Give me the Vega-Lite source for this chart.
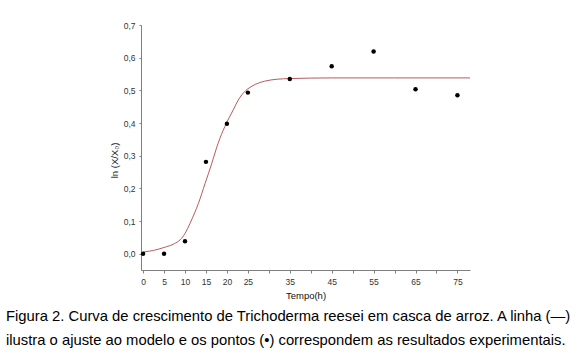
{
  "$schema": "https://vega.github.io/schema/vega-lite/v6.json",
  "width": 329,
  "height": 245,
  "autosize": {"type": "none"},
  "padding": {"left": 141, "top": 25, "right": 108, "bottom": 83},
  "background": "white",
  "config": {
    "view": {"stroke": null},
    "font": "Liberation Sans",
    "axis": {
      "grid": false,
      "domainColor": "#7f7f7f",
      "tickColor": "#7f7f7f",
      "labelColor": "#333333",
      "titleColor": "#111111",
      "labelFont": "Liberation Sans",
      "titleFont": "Liberation Sans",
      "labelFontSize": 8.5,
      "titleFontSize": 9.5,
      "titleFontWeight": "normal",
      "tickSize": 3
    }
  },
  "title": {
    "text": [
      "Figura 2. Curva de crescimento de Trichoderma reesei em casca de arroz. A linha (—)",
      "ilustra o ajuste ao modelo e os pontos (•) correspondem as resultados experimentais."
    ],
    "orient": "bottom",
    "anchor": "start",
    "frame": "group",
    "dx": -135,
    "offset": 9,
    "font": "Liberation Sans",
    "fontSize": 14.8,
    "fontWeight": "normal",
    "color": "#000000",
    "lineHeight": 24
  },
  "datasets": {
    "curve": [
      {"t": 0, "y": 0.005},
      {"t": 2.5, "y": 0.010},
      {"t": 5, "y": 0.019},
      {"t": 7.5, "y": 0.031},
      {"t": 8.8, "y": 0.042},
      {"t": 10, "y": 0.062},
      {"t": 11.2, "y": 0.093},
      {"t": 13.2, "y": 0.154},
      {"t": 14.8, "y": 0.215},
      {"t": 16.4, "y": 0.277},
      {"t": 17.9, "y": 0.338},
      {"t": 19.5, "y": 0.389},
      {"t": 21.5, "y": 0.440},
      {"t": 22.7, "y": 0.470},
      {"t": 24, "y": 0.493},
      {"t": 26, "y": 0.513},
      {"t": 29, "y": 0.528},
      {"t": 32, "y": 0.534},
      {"t": 35, "y": 0.536},
      {"t": 45, "y": 0.538},
      {"t": 60, "y": 0.538},
      {"t": 78, "y": 0.538}
    ],
    "points": [
      {"t": 0, "y": 0.0},
      {"t": 5, "y": 0.0},
      {"t": 10, "y": 0.038},
      {"t": 15, "y": 0.281},
      {"t": 20, "y": 0.398},
      {"t": 25, "y": 0.493},
      {"t": 35, "y": 0.535},
      {"t": 45, "y": 0.574},
      {"t": 55, "y": 0.619},
      {"t": 65, "y": 0.503},
      {"t": 75, "y": 0.485}
    ]
  },
  "layer": [
    {
      "data": {"name": "curve"},
      "mark": {"type": "line", "color": "#b85a5e", "strokeWidth": 1, "interpolate": "monotone"},
      "encoding": {
        "x": {
          "field": "t", "type": "quantitative",
          "scale": {"domain": [-0.5, 78], "nice": false, "zero": false},
          "axis": {
            "title": "Tempo(h)",
            "values": [0, 5, 10, 15, 20, 25, 30, 35, 40, 45, 50, 55, 60, 65, 70, 75],
            "tickCount": 40,
            "labelExpr": "indexof([30,40,50,60,70], datum.value) >= 0 ? '' : datum.label",
            "labelOverlap": false,
            "labelBound": false,
            "labelFlush": false,
            "labelPadding": 4,
            "titlePadding": 5
          }
        },
        "y": {
          "field": "y", "type": "quantitative",
          "scale": {"domain": [-0.05, 0.7], "nice": false, "zero": false},
          "axis": {
            "title": "ln (X/X₀)",
            "values": [0, 0.1, 0.2, 0.3, 0.4, 0.5, 0.6, 0.7],
            "tickCount": 20,
            "labelExpr": "replace(format(datum.value, '.1f'), '.', ',')",
            "labelOverlap": false,
            "labelBound": false,
            "labelFlush": false,
            "tickSize": 2,
            "labelPadding": 4,
            "titlePadding": 4,
            "titleY": 135
          }
        }
      }
    },
    {
      "data": {"name": "points"},
      "mark": {"type": "circle", "color": "#000000", "opacity": 1, "size": 20},
      "encoding": {
        "x": {"field": "t", "type": "quantitative"},
        "y": {"field": "y", "type": "quantitative"}
      }
    }
  ]
}
